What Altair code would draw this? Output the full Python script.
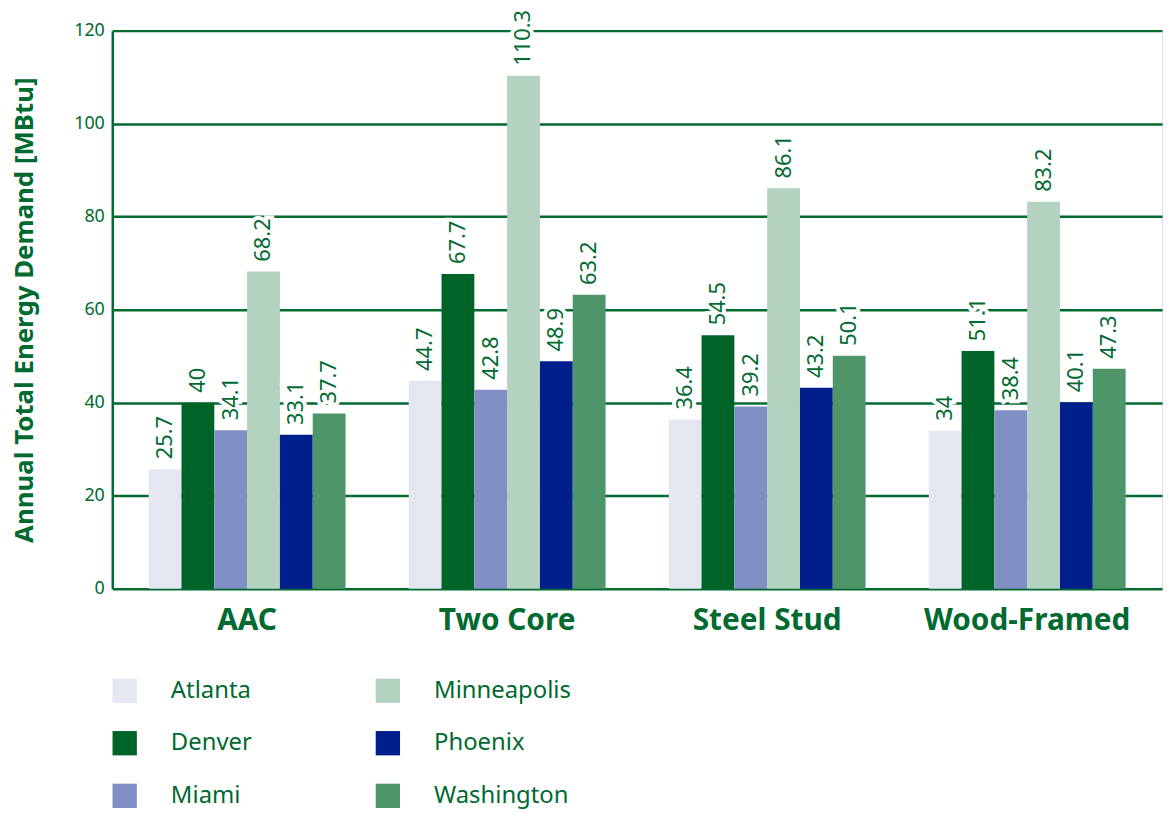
import altair as alt
import pandas as pd

materials = ["AAC", "Two Core", "Steel Stud", "Wood-Framed"]
cities = ["Atlanta", "Denver", "Miami", "Minneapolis", "Phoenix", "Washington"]
atlanta = [25.7, 44.7, 36.4, 34]
denver = [40, 67.7, 54.5, 51.1]
miami = [34.1, 42.8, 39.2, 38.4]
minneapolis = [68.2, 110.3, 86.1, 83.2]
phoenix = [33.1, 48.9, 43.2, 40.1]
washington = [37.7, 63.2, 50.1, 47.3]
colors = ["#e4e6f2", "#006428", "#8090c4", "#b4d2c0", "#001e8c", "#4e966a"]

series = [atlanta, denver, miami, minneapolis, phoenix, washington]
rows = []
for city, vals in zip(cities, series):
    for m, v in zip(materials, vals):
        rows.append({"material": m, "city": city, "value": v,
                     "label": f"{v:g}"})
df = pd.DataFrame(rows)

GREEN = "#006a30"
FONT = "Noto Sans"

x = alt.X("material:N", sort=materials, title=None,
          scale=alt.Scale(paddingInner=0.243, paddingOuter=0.14),
          axis=alt.Axis(labelFont=FONT, labelFontSize=30, labelFontWeight="bold",
                        labelColor=GREEN, labelPadding=17, ticks=False,
                        domain=False, labelAngle=0, labelLimit=0))
xo = alt.XOffset("city:N", sort=cities)
y = alt.Y("value:Q", title="Annual Total Energy Demand [MBtu]",
          scale=alt.Scale(domain=[0, 120]),
          axis=alt.Axis(values=[0, 20, 40, 60, 80, 100, 120], labelFont=FONT,
                        labelFontSize=18, labelColor=GREEN, labelPadding=8,
                        ticks=False, domainColor=GREEN, domainWidth=2.5,
                        gridColor=GREEN, gridWidth=2.5, gridOpacity=1,
                        titleFont=FONT, titleFontSize=26, titleFontWeight="bold",
                        titleColor=GREEN, titleX=-75))

bars = alt.Chart(df).mark_bar().encode(
    x=x, xOffset=xo, y=y,
    color=alt.Color("city:N",
                    scale=alt.Scale(domain=cities, range=colors),
                    legend=alt.Legend(title=None, orient="none", legendX=0,
                                      legendY=652, columns=2, symbolType="square",
                                      symbolSize=600, symbolStrokeWidth=0,
                                      symbolOpacity=1,
                                      labelFont=FONT, labelFontSize=24,
                                      labelColor=GREEN, labelOffset=34,
                                      columnPadding=124, rowPadding=28,
                                      labelLimit=300)),
)

halo = alt.Chart(df).mark_text(angle=270, align="left", baseline="middle", dx=10,
                               font=FONT, fontSize=22, fill="white",
                               stroke="white", strokeWidth=8).encode(
    x=alt.X("material:N", sort=materials), xOffset=xo,
    y="value:Q", text="label:N")

labels = alt.Chart(df).mark_text(angle=270, align="left", baseline="middle", dx=10,
                                 font=FONT, fontSize=22, color=GREEN).encode(
    x=alt.X("material:N", sort=materials), xOffset=xo,
    y="value:Q", text="label:N")

chart = alt.layer(bars, halo, labels).properties(
    width=1057, height=562,
    autosize=alt.AutoSizeParams(type="none"),
    padding={"left": 105, "top": 20, "right": 3, "bottom": 226},
).configure_view(stroke=GREEN, strokeWidth=2.5).configure(background="white")

chart.save("out.html", embed_options={"renderer": "svg", "actions": False})
